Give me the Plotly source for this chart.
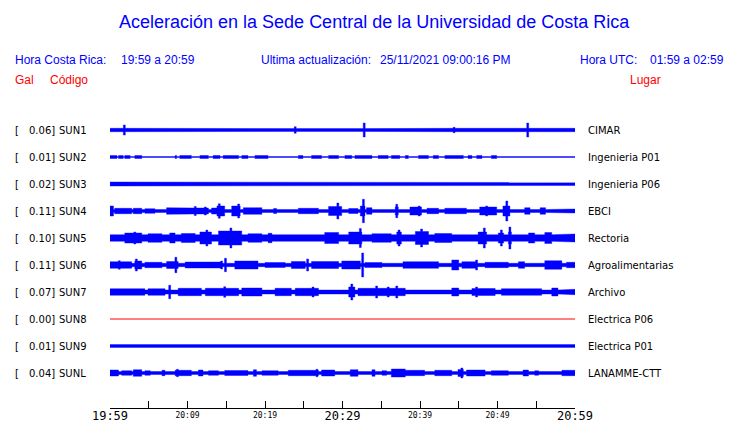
import plotly.graph_objects as go

# ---------------- data ----------------
STATIONS = ["SUN1", "SUN2", "SUN3", "SUN4", "SUN5", "SUN6", "SUN7", "SUN8", "SUN9", "SUNL"]
PEAK_GAL = [0.06, 0.01, 0.02, 0.11, 0.10, 0.11, 0.07, 0.00, 0.01, 0.04]
PLACES = ["CIMAR", "Ingenieria P01", "Ingenieria P06", "EBCI", "Rectoria",
          "Agroalimentarias", "Archivo", "Electrica P06", "Electrica P01", "LANAMME-CTT"]

# background envelope amplitude of each trace (relative units, 27 = row spacing)
BASE_AMP = [1.4, 0.5, 1.5, 1.5, 3.3, 1.7, 2.0, 0.0, 1.4, 1.5]

# bursts: (start minute, end minute, envelope amplitude)
BURSTS_SUN1 = [(0, 6.3, 1.7), (44.0, 47.0, 1.7), (53.0, 60, 1.7)]
SPIKES_SUN1 = [(1.85, 5.0), (23.9, 3.3), (29.5, 1.8), (31.2, 1.8), (32.8, 7.0),
               (44.4, 2.7), (45.4, 2.0), (53.9, 7.0), (57.2, 2.0)]

BURSTS_SUN2 = [(0, 0.9, 1.5), (1.1, 1.7, 1.5), (1.9, 2.6, 1.5), (3.2, 4.1, 1.5), (8.4, 8.6, 1.5),
               (9.0, 10.5, 1.5), (11.6, 12.7, 1.5), (13.3, 14.2, 1.5), (14.6, 16.6, 1.5),
               (17.0, 17.8, 1.5), (18.7, 20.4, 1.5), (24.3, 24.9, 1.5), (26.0, 27.3, 1.5),
               (28.2, 29.5, 1.5), (30.3, 31.2, 1.5), (31.6, 33.8, 1.5), (34.6, 35.9, 1.5),
               (36.3, 37.4, 1.5), (38.1, 38.5, 1.5), (39.8, 41.1, 1.5), (41.7, 42.4, 1.5),
               (43.2, 45.6, 1.5), (46.2, 46.7, 1.5), (47.3, 48.0, 1.5), (49.2, 49.9, 1.5)]
SPIKES_SUN2 = [(5.0, 1.2), (6.2, 1.2), (7.3, 1.2), (21.1, 1.2), (21.7, 1.2), (22.6, 1.2),
               (23.2, 1.2), (51.0, 1.2), (52.7, 1.2), (54.0, 1.2), (55.3, 1.2), (57.4, 1.2),
               (58.7, 1.2), (59.4, 1.2)]

BURSTS_SUN3 = [(0, 1.9, 2.0), (2.6, 4.1, 2.0), (6.2, 9.2, 2.0), (9.9, 11.0, 2.0), (12.3, 14.4, 2.0),
               (14.8, 18.3, 2.0), (18.7, 20.4, 2.0), (22.2, 22.6, 2.0), (24.7, 27.7, 2.0),
               (28.6, 30.3, 2.0), (31.2, 32.9, 2.0), (35.9, 36.8, 2.0), (37.2, 38.1, 2.0),
               (40.2, 41.5, 2.0), (41.9, 44.1, 2.0), (44.5, 47.5, 2.0), (53.5, 54.8, 2.0),
               (57.8, 58.7, 2.0)]
SPIKES_SUN3 = [(49.2, 2.2), (50.1, 2.2), (52.3, 2.2)]

BURSTS_SUN4 = [(0, 0.45, 5.0), (0.6, 2.8, 2.7), (3.0, 4.1, 2.7), (4.5, 5.8, 2.3), (7.3, 9.2, 3.3),
               (9.2, 12.7, 3.0), (13.1, 13.8, 3.0), (13.8, 14.8, 5.0), (15.7, 16.8, 5.0),
               (17.2, 19.6, 3.3), (21.1, 21.5, 2.5), (24.3, 26.9, 2.7), (28.2, 29.9, 4.5),
               (30.8, 32.0, 2.5), (32.3, 32.9, 5.0), (33.1, 33.8, 3.3), (34.6, 35.0, 2.0),
               (36.8, 37.2, 4.0), (38.7, 40.2, 4.0), (40.9, 42.4, 2.7), (43.2, 46.0, 2.7),
               (47.7, 49.9, 4.0), (50.7, 51.6, 5.0), (53.5, 54.2, 3.3), (55.5, 56.2, 3.3),
               (58.3, 60, 2.0)]
SPIKES_SUN4 = [(11.0, 4.5), (12.3, 4.0), (14.1, 7.3), (16.6, 7.0), (29.4, 8.0), (32.7, 11.7),
               (37.0, 6.7), (39.9, 5.0), (48.6, 5.0), (51.2, 10.0)]

BURSTS_SUN5 = [(1.9, 4.1, 5.0), (4.9, 6.7, 4.3), (7.7, 8.4, 5.0), (9.2, 11.0, 4.5), (11.6, 13.1, 6.0),
               (14.0, 17.0, 7.0), (17.8, 19.6, 4.3), (20.4, 20.9, 4.7), (21.9, 22.6, 4.0),
               (24.3, 26.0, 4.0), (27.7, 29.5, 5.5), (30.8, 32.5, 6.0), (33.8, 36.3, 4.3),
               (37.0, 37.6, 6.0), (39.4, 41.1, 6.5), (41.9, 44.1, 4.5), (44.9, 45.8, 4.0),
               (47.5, 48.6, 6.0), (50.1, 50.8, 5.0), (51.4, 51.8, 6.0), (54.0, 54.8, 5.0),
               (56.1, 57.0, 5.5), (57.8, 60, 4.0)]
SPIKES_SUN5 = [(3.2, 6.0), (12.5, 8.0), (15.6, 10.0), (32.3, 9.5), (37.3, 8.0), (40.2, 9.0),
               (48.3, 10.0), (50.5, 8.0), (51.6, 11.0)]

BURSTS_SUN6 = [(0, 2.8, 3.3), (3.2, 4.1, 4.0), (4.5, 6.7, 2.7), (7.3, 8.8, 3.5), (9.7, 14.4, 3.0),
               (16.1, 19.1, 4.0), (20.0, 22.6, 2.5), (23.4, 25.2, 3.5), (26.0, 29.5, 3.5),
               (29.9, 32.3, 4.0), (32.9, 35.1, 2.5), (37.8, 42.4, 3.3), (44.1, 45.0, 5.0),
               (45.4, 47.2, 3.3), (48.4, 51.4, 2.7), (52.7, 53.5, 3.3), (56.1, 58.3, 4.3),
               (58.9, 60, 2.7)]
SPIKES_SUN6 = [(1.2, 4.3), (3.4, 6.0), (8.5, 7.7), (14.4, 4.0), (14.9, 6.7), (25.5, 6.0),
               (32.6, 12.0), (47.3, 5.0), (57.9, 5.0)]

BURSTS_SUN7 = [(0, 4.5, 3.3), (4.9, 7.1, 3.3), (8.8, 11.8, 3.7), (12.3, 16.6, 3.7), (17.0, 19.6, 4.0),
               (21.3, 23.4, 3.7), (23.9, 26.9, 3.7), (27.3, 30.3, 2.7), (30.8, 31.6, 5.0),
               (32.0, 38.1, 3.7), (39.1, 43.7, 2.7), (44.1, 45.0, 4.0), (46.7, 49.7, 3.5),
               (50.5, 55.7, 3.3), (57.0, 57.8, 4.0), (58.7, 60, 2.7)]
SPIKES_SUN7 = [(7.7, 6.7), (14.8, 5.3), (26.2, 5.0), (31.2, 8.0), (34.4, 6.0), (35.9, 5.0),
               (37.0, 6.0), (47.3, 5.0)]

BURSTS_SUN8 = []
SPIKES_SUN8 = []

BURSTS_SUN9 = [(53.1, 55.3, 1.8), (58.7, 59.6, 2.0)]
SPIKES_SUN9 = [(5.4, 2.0), (6.2, 2.0), (28.6, 2.0), (34.8, 2.0)]

BURSTS_SUNL = [(0, 1.1, 3.0), (1.5, 2.8, 2.3), (3.0, 4.1, 3.3), (4.5, 5.2, 2.3), (6.7, 7.1, 2.7),
               (8.4, 10.5, 2.7), (11.4, 12.0, 3.0), (12.7, 14.0, 2.3), (14.8, 17.8, 2.5),
               (18.5, 18.9, 3.3), (19.6, 21.7, 2.3), (23.0, 26.9, 2.7), (27.3, 29.0, 3.0),
               (31.0, 32.0, 3.3), (33.8, 34.2, 3.3), (35.1, 35.7, 2.3), (36.3, 38.1, 4.0),
               (38.1, 40.6, 2.7), (41.9, 44.1, 2.7), (44.9, 45.6, 3.5), (46.0, 48.4, 3.0),
               (49.2, 51.4, 2.3), (53.3, 54.0, 3.0), (54.8, 55.3, 2.3), (58.3, 60, 2.7)]
SPIKES_SUNL = [(3.7, 4.0), (8.7, 3.7), (26.7, 3.7), (45.4, 5.0)]

BURSTS = [BURSTS_SUN1, BURSTS_SUN2, BURSTS_SUN3, BURSTS_SUN4, BURSTS_SUN5,
          BURSTS_SUN6, BURSTS_SUN7, BURSTS_SUN8, BURSTS_SUN9, BURSTS_SUNL]
SPIKES = [SPIKES_SUN1, SPIKES_SUN2, SPIKES_SUN3, SPIKES_SUN4, SPIKES_SUN5,
          SPIKES_SUN6, SPIKES_SUN7, SPIKES_SUN8, SPIKES_SUN9, SPIKES_SUNL]

TICK_MINUTES = [0, 5, 10, 15, 20, 25, 30, 35, 40, 45, 50, 55, 60]
MAJOR_TICK_MINUTES = [0, 30, 60]
MAJOR_TICK_LABELS = ["19:59", "20:29", "20:59"]
MINOR_TICK_MINUTES = [10, 20, 40, 50]
MINOR_TICK_LABELS = ["20:09", "20:19", "20:39", "20:49"]

TITLE = "Aceleración en la Sede Central de la Universidad de Costa Rica"

# ---------------- figure ----------------
W, H = 740, 423
L, R, T, B = 110, 165, 115, 15
PH = H - T - B
ROW = 27.0
Y_BOTTOM = -9 - (H - B - 373) / ROW
Y_TOP = Y_BOTTOM + PH / ROW
BLUE = "#0000ff"
RED = "#ff0000"


def envelope(base, bursts, spikes, total=60.0, width=0.25):
    segs = list(bursts) + [(t - width / 2, t + width / 2, a) for t, a in spikes]
    pts = {0.0, total}
    for s, e, a in segs:
        pts.add(min(total, max(0.0, s)))
        pts.add(min(total, max(0.0, e)))
    pts = sorted(pts)
    xs, amps = [], []
    for a0, a1 in zip(pts[:-1], pts[1:]):
        mid = (a0 + a1) / 2
        amp = max([base] + [a for s, e, a in segs if s <= mid <= e])
        xs += [a0, a1]
        amps += [amp, amp]
    return xs, amps


fig = go.Figure()
for i, st in enumerate(STATIONS):
    c = -i
    if BASE_AMP[i] == 0 and not BURSTS[i] and not SPIKES[i]:
        fig.add_trace(go.Scatter(x=[0, 60], y=[c, c], mode="lines",
                                 line=dict(color=RED, width=1), hoverinfo="skip"))
        continue
    xs, amps = envelope(BASE_AMP[i], BURSTS[i], SPIKES[i])
    px = xs + xs[::-1]
    py = [c + a / ROW for a in amps] + [c - a / ROW for a in amps[::-1]]
    fig.add_trace(go.Scatter(x=px, y=py, mode="lines", fill="toself",
                             fillcolor=BLUE, line=dict(color=BLUE, width=0.4),
                             hoverinfo="skip"))

# invisible trace to activate the second (label-only) x axis
fig.add_trace(go.Scatter(x=[0, 60], y=[Y_BOTTOM, Y_BOTTOM], xaxis="x2", mode="lines",
                         line=dict(width=0), opacity=0, hoverinfo="skip"))


def xp(px):
    return (px - L) / (W - L - R)


def yp(py):
    return (H - B - py) / PH


ann = []


def text(x, y, s, color="black", size=10, family="DejaVu Sans", xanchor="left", yref="paper"):
    ann.append(dict(x=xp(x), y=(yp(y) if yref == "paper" else y), xref="paper", yref=yref,
                    text=s, showarrow=False, xanchor=xanchor, yanchor="middle",
                    borderpad=0, borderwidth=0,
                    font=dict(color=color, size=size, family=family)))


HDR = "Liberation Sans, Arial, sans-serif"
text(374, 22, TITLE, BLUE, 18, HDR, "center")
text(15, 60, "Hora Costa Rica:", BLUE, 12, HDR)
text(121, 60, "19:59 a 20:59", BLUE, 12, HDR)
text(260.5, 60, "Ultima actualización:", BLUE, 12, HDR)
text(380, 60, "25/11/2021 09:00:16 PM", BLUE, 12, HDR)
text(580, 60, "Hora UTC:", BLUE, 12, HDR)
text(724, 60, "01:59 a 02:59", BLUE, 12, HDR, "right")
text(15, 80, "Gal", RED, 12, HDR)
text(50, 80, "Código", RED, 12, HDR)
text(630, 80, "Lugar", RED, 12, HDR)

for i, st in enumerate(STATIONS):
    text(15, -i, "[", yref="y")
    text(54.5, -i, f"{PEAK_GAL[i]:.2f}]", xanchor="right", yref="y")
    text(58.5, -i, st, yref="y")
    text(587.5, -i, PLACES[i], yref="y")

# major labels on the main axis, carrying the ticks at every 5 minutes
major_text = [MAJOR_TICK_LABELS[MAJOR_TICK_MINUTES.index(m)] if m in MAJOR_TICK_MINUTES else ""
              for m in TICK_MINUTES]

fig.update_layout(
    width=W, height=H,
    margin=dict(l=L, r=R, t=T, b=B, pad=0, autoexpand=False),
    paper_bgcolor="white", plot_bgcolor="white",
    showlegend=False,
    annotations=ann,
    xaxis=dict(range=[0, 60], showgrid=False, zeroline=False, showline=True,
               linecolor="black", linewidth=1, ticks="inside", ticklen=7,
               tickcolor="black", tickwidth=1, tickmode="array",
               tickvals=TICK_MINUTES, ticktext=major_text, automargin=False,
               ticklabelstandoff=-3,
               tickfont=dict(family="DejaVu Sans Mono", size=12, color="black"),
               fixedrange=True),
    xaxis2=dict(range=[0, 60], overlaying="x", anchor="y", side="bottom",
                showgrid=False, zeroline=False, showline=False, ticks="",
                tickmode="array", tickvals=MINOR_TICK_MINUTES, ticktext=MINOR_TICK_LABELS,
                automargin=False, ticklabelstandoff=1,
                tickfont=dict(family="DejaVu Sans Mono", size=8, color="black"),
                fixedrange=True),
    yaxis=dict(range=[Y_BOTTOM, Y_TOP], visible=False, fixedrange=True, automargin=False),
)

fig.write_html("out.html", config={"displayModeBar": False},
               post_script="document.body.style.margin='0';")
